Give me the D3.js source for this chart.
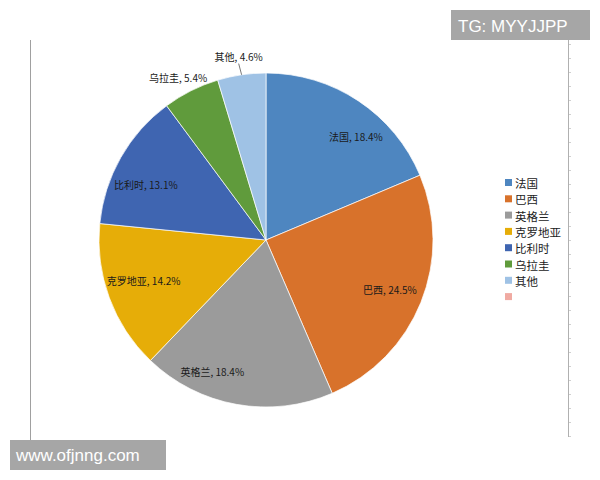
<!DOCTYPE html>
<html><head><meta charset="utf-8">
<script src="https://cdn.jsdelivr.net/npm/d3@7"></script>
<style>body{margin:0;background:#fff}svg{display:block}</style>
</head><body>
<svg id="c" width="600" height="480"></svg>
<script>
const categories = ["法国","巴西","英格兰","克罗地亚","比利时","乌拉圭","其他"];
const values = [18.4, 24.5, 18.4, 14.2, 13.1, 5.4, 4.6];
const colors = ["#4e86c0","#d8722b","#9b9b9b","#e6ad08","#3f65b1","#609b3c","#9fc2e5"];
const legendExtra = {name:"", color:"#f0aaa2"};

const svg = d3.select("#c");
const cx = 266, cy = 240, R = 167;

// frame lines
svg.append("line").attr("x1",30.5).attr("x2",30.5).attr("y1",40).attr("y2",440).attr("stroke","#a0a0a0").attr("stroke-width",1);
svg.append("line").attr("x1",568.5).attr("x2",568.5).attr("y1",40).attr("y2",437).attr("stroke","#b0b0b0").attr("stroke-width",1);
const ticks = d3.range(44, 437, 14);
svg.selectAll(".rt").data(ticks).enter().append("line")
  .attr("x1",569).attr("x2",571).attr("y1",d=>d+0.5).attr("y2",d=>d+0.5).attr("stroke","#d0d0d0");

const pie = d3.pie().sort(null).value(d=>d.v);
const data = pie(categories.map((c,i)=>({c, v:values[i], col:colors[i]})));
const arc = d3.arc().innerRadius(0).outerRadius(R);
const g = svg.append("g").attr("transform",`translate(${cx},${cy})`);
g.selectAll("path").data(data).enter().append("path")
  .attr("d",arc).attr("fill",d=>d.data.col).attr("stroke","#fff").attr("stroke-width",0.7);

const fmt = d => `${d.data.c}, ${d.data.v.toFixed(1)}%`;
const inArc = d3.arc().innerRadius(R*0.8).outerRadius(R*0.8);
const outArc = d3.arc().innerRadius(R*1.08).outerRadius(R*1.08);
const nudge = [[16,8],[0,0],[-30,0],[3,-6],[-4,10],[-7,-1],[-1,-5]];
data.forEach((d,i)=>{
  const outside = d.data.v < 10;
  const p = outside ? outArc.centroid(d) : inArc.centroid(d);
  const x = p[0]+nudge[i][0], y = p[1]+nudge[i][1];
  g.append("text").attr("x",x).attr("y",y).attr("text-anchor","middle").attr("dominant-baseline","central")
    .attr("font-family","'Noto Sans CJK SC','Noto Sans',sans-serif").attr("font-size",10).attr("fill","#1a1a1a")
    .text(fmt(d));
  if (i === categories.length-1) {
    const a = (d.startAngle+d.endAngle)/2;
    const p1 = [Math.sin(a)*R, -Math.cos(a)*R];
    g.append("line").attr("x1",p1[0]).attr("y1",p1[1]).attr("x2",x).attr("y2",y+7)
      .attr("stroke","#555").attr("stroke-width",0.8);
  }
});

// legend
const leg = categories.map((c,i)=>({name:c,color:colors[i]})).concat([legendExtra]);
const lg = svg.append("g").attr("transform","translate(505,183)");
lg.selectAll("g").data(leg).enter().append("g").attr("transform",(d,i)=>`translate(0,${i*16.3})`).each(function(d){
  const s = d3.select(this);
  s.append("rect").attr("x",0).attr("y",-4).attr("width",7).attr("height",7).attr("fill",d.color);
  s.append("text").attr("x",10).attr("y",0).attr("dominant-baseline","central")
    .attr("font-family","'Noto Sans CJK SC',sans-serif").attr("font-size",11.5).attr("fill","#222").text(d.name);
});

// watermarks
svg.append("rect").attr("x",451).attr("y",10).attr("width",139).attr("height",30).attr("fill","#a6a6a6");
svg.append("text").attr("x",458).attr("y",26).attr("dominant-baseline","central").attr("fill","#fff")
  .attr("font-family","'Liberation Sans',Arial,sans-serif").attr("font-size",17).text("TG: MYYJJPP");
svg.append("rect").attr("x",10).attr("y",440).attr("width",156).attr("height",30).attr("fill","#a6a6a6");
svg.append("text").attr("x",16).attr("y",455).attr("dominant-baseline","central").attr("fill","#fff")
  .attr("font-family","'Liberation Sans',Arial,sans-serif").attr("font-size",17).text("www.ofjnng.com");
</script>
</body></html>
